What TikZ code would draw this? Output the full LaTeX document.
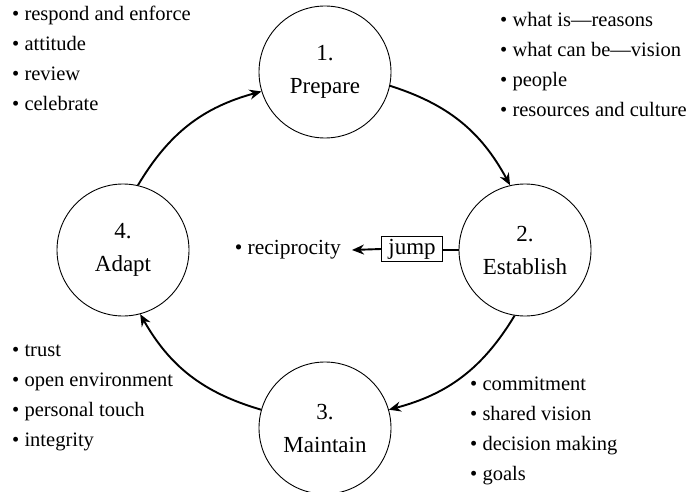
\documentclass[tikz,border=0pt]{standalone}
\usepackage{fontspec}
\setmainfont{Liberation Serif}
\usetikzlibrary{arrows.meta}
\begin{document}
\begin{tikzpicture}[x=1pt,y=-1pt,
  stage/.style={draw, line width=0.9pt, circle, minimum size=132pt, inner sep=0pt,
    align=center, font=\fontsize{23}{33}\selectfont},
  flow/.style={line width=1.9pt, -{Stealth[length=12pt,width=10pt]}},
  item/.style={anchor=base west, inner sep=0pt, font=\fontsize{20.5}{24}\selectfont},
  tag/.style={draw, line width=0.8pt, inner xsep=7pt, inner ysep=2.5pt,
    font=\fontsize{23}{26}\selectfont}]
\useasboundingbox (0,0) rectangle (688,492);

% the four stages
\node[stage] (p) at (325,72)  {1.\\Prepare};
\node[stage] (e) at (525,250) {2.\\Establish};
\node[stage] (m) at (325,428) {3.\\Maintain};
\node[stage] (a) at (123,250) {4.\\Adapt};

% cycle arrows
\draw[flow] (p.-12)  to[bend left=22] (e.103);
\draw[flow] (e.-99)  to[bend left=22] (m.16);
\draw[flow] (m.164)  to[bend left=22] (a.-75);
\draw[flow] (a.77)   to[bend left=22] (p.197);

% the jump branch
\node[tag] (j) at (412,249) {jump};
\node[anchor=east, inner sep=0pt, font=\fontsize{21.5}{24}\selectfont] (r) at (341,250) {• reciprocity};
\draw[line width=1.9pt] (e.west) -- (e.west -| j.east);
\draw[flow] (j.west) -- ([xshift=11pt]r.east);

% Prepare
\node[item] (p1) at (500,27)  {• what is—reasons};
\node[item] (p2) at (500,57)  {• what can be—vision};
\node[item] (p3) at (500,87)  {• people};
\node[item] (p4) at (500,117) {• resources and culture};

% Adapt
\node[item] (a1) at (12,21)  {• respond and enforce};
\node[item] (a2) at (12,51)  {• attitude};
\node[item] (a3) at (12,81)  {• review};
\node[item] (a4) at (12,111) {• celebrate};

% Maintain
\node[item] (m1) at (12,356) {• trust};
\node[item] (m2) at (12,386) {• open environment};
\node[item] (m3) at (12,416) {• personal touch};
\node[item] (m4) at (12,446) {• integrity};

% Establish
\node[item] (e1) at (470,390) {• commitment};
\node[item] (e2) at (470,420) {• shared vision};
\node[item] (e3) at (470,450) {• decision making};
\node[item] (e4) at (470,480) {• goals};
\end{tikzpicture}
\end{document}
